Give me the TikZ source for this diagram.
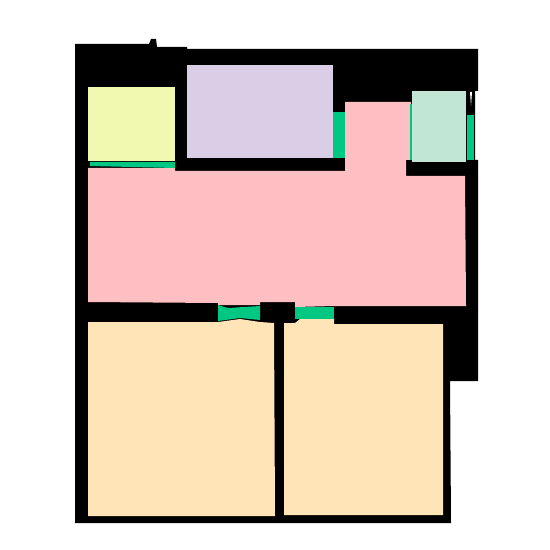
\documentclass[tikz,border=0pt]{standalone}
\usepackage{tikz}
\definecolor{wallBlack}{HTML}{000000}
\definecolor{roomYellow}{HTML}{F1F9B0}
\definecolor{roomLilac}{HTML}{DACEE6}
\definecolor{roomPink}{HTML}{FDBFC1}
\definecolor{roomMint}{HTML}{C1E6D6}
\definecolor{roomBeige}{HTML}{FEE4B6}
\definecolor{doorGreen}{HTML}{00C781}
\begin{document}
\begin{tikzpicture}
  [
    x=0.02cm, y=-0.02cm,
    Wall/.style={fill=wallBlack},
    Yellow/.style={fill=roomYellow},
    Lilac/.style={fill=roomLilac},
    Pink/.style={fill=roomPink},
    Mint/.style={fill=roomMint},
    Beige/.style={fill=roomBeige},
    Door/.style={fill=doorGreen},
    Gap/.style={fill=white}
  ]
  \useasboundingbox (0, 0) rectangle (550, 550);
  \fill[white] (0, 0) rectangle (550, 550);
  % Walls
  \path[Wall] (75, 44) -- (149, 44) -- (151, 39) -- (156, 39) -- (157, 47) -- (187, 47)
    -- (187, 49) -- (478, 49) -- (478, 91) -- (475, 91) -- (475, 160) -- (478, 160)
    -- (478, 381) -- (450, 381) -- (451, 523) -- (75, 523) -- cycle;
  % Rooms
  \path[Yellow] (88, 87) rectangle (175, 161);
  \path[Lilac] (187, 65) rectangle (333, 158);
  \path[Mint] (412, 91) rectangle (466, 162);
  \path[Pink] (88, 168) -- (175, 168) -- (175, 171) -- (345, 171) -- (345, 102) -- (411, 102)
    -- (411, 160) -- (406, 160) -- (406, 176) -- (465, 176) -- (466, 306) -- (334, 306)
    -- (295, 307) -- (295, 302) -- (260, 302) -- (260, 305) -- (218, 305) -- (218, 303)
    -- (88, 302) -- cycle;
  \path[Beige] (88, 322) -- (218, 322) -- (240, 319) -- (260, 322) -- (274, 323)
    -- (275, 516) -- (88, 516) -- cycle;
  \path[Beige] (284, 323) -- (295, 323) -- (300, 319) -- (334, 319) -- (334, 324)
    -- (443, 324) -- (443, 515) -- (284, 515) -- cycle;
  % Doors
  \path[Door] (90, 162) -- (175, 162) -- (175, 168) -- (90, 166) -- cycle;
  \path[Door] (333, 112) rectangle (345, 158);
  \path[Door] (410, 104) rectangle (412, 160);
  \path[Door] (467, 115) rectangle (474, 160);
  \path[Door] (218, 305) -- (228, 308) -- (260, 306) -- (260, 320) -- (240, 318) -- (218, 321) -- cycle;
  \path[Door] (295, 307) rectangle (334, 319);
  % Gaps
  \path[Gap] (470, 92) -- (472, 92) -- (471, 106) -- cycle;
\end{tikzpicture}
\end{document}
